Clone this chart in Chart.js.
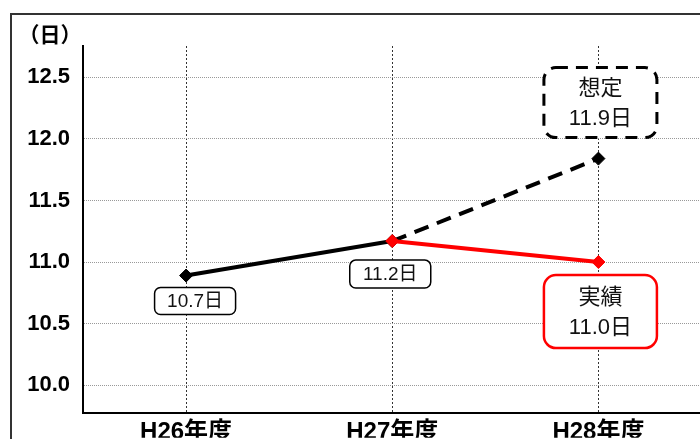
<!DOCTYPE html>
<html lang="ja">
<head>
  <meta charset="UTF-8" />
  <title>平均在院日数の推移</title>
  <script src="https://cdn.jsdelivr.net/npm/chart.js"></script>
  <style>
    html, body { margin: 0; padding: 0; background: #fff; }
    body { width: 700px; height: 439px; overflow: hidden; position: relative; }
    .frame {
      position: absolute; left: 10px; top: 13px;
      width: 740px; height: 480px;
      border: 2px solid #333;
    }
    #chart { position: absolute; left: 0; top: 0; }
  </style>
</head>
<body>
  <div class="frame"></div>
  <canvas id="chart" width="709" height="439"></canvas>

  <script>
    // values
    const categories = ['H26年度', 'H27年度', 'H28年度'];
    const pastValues = [10.89, 11.17, null];     // black solid line
    const planValues = [null, 11.17, 11.84];     // dashed "想定"
    const actualValues = [null, 11.17, 11.0];    // red "実績"
    const yTicks = [10.0, 10.5, 11.0, 11.5, 12.0, 12.5];
    const yMin = 9.775;
    const yMax = 12.755;

    const FONT = '"Liberation Sans", "Noto Sans CJK JP", sans-serif';

    // callout boxes, anchored on a point
    const callouts = [
      { ds: 1, i: 0, lines: ['10.7日'], dx: 9, dy: 12, w: 81, h: 27, size: 19, color: '#000', lw: 1.5, r: 6 },
      { ds: 1, i: 1, lines: ['11.2日'], dx: -2, dy: 19, w: 81, h: 28, size: 19, color: '#000', lw: 1.5, r: 6 },
      { ds: 0, i: 2, lines: ['実績', '11.0日'], dx: 2, dy: 13, w: 113, h: 73, size: 22, color: '#ff0000', lw: 2.5, r: 12 },
      { ds: 2, i: 2, lines: ['想定', '11.9日'], dx: 2, dy: -91, w: 113, h: 70, size: 22, color: '#000', lw: 3, r: 12, dash: [12, 8] }
    ];

    function roundRect(ctx, x, y, w, h, r) {
      ctx.beginPath();
      ctx.moveTo(x + r, y);
      ctx.lineTo(x + w - r, y);
      ctx.arcTo(x + w, y, x + w, y + r, r);
      ctx.lineTo(x + w, y + h - r);
      ctx.arcTo(x + w, y + h, x + w - r, y + h, r);
      ctx.lineTo(x + r, y + h);
      ctx.arcTo(x, y + h, x, y + h - r, r);
      ctx.lineTo(x, y + r);
      ctx.arcTo(x, y, x + r, y, r);
      ctx.closePath();
    }

    const calloutPlugin = {
      id: 'callouts',
      afterDatasetsDraw(chart) {
        const ctx = chart.ctx;
        const xs = chart.scales.x, ys = chart.scales.y;
        const sets = chart.data.datasets;
        ctx.save();
        callouts.forEach(c => {
          const px = xs.getPixelForValue(c.i);
          const py = ys.getPixelForValue(sets[c.ds].data[c.i]);
          const left = px + c.dx - c.w / 2;
          const top = py + c.dy;
          roundRect(ctx, left, top, c.w, c.h, c.r);
          ctx.fillStyle = '#fff';
          ctx.fill();
          ctx.lineWidth = c.lw;
          ctx.strokeStyle = c.color;
          ctx.setLineDash(c.dash || []);
          ctx.stroke();
          ctx.setLineDash([]);
          ctx.fillStyle = '#111';
          ctx.font = c.size + 'px ' + FONT;
          ctx.textAlign = 'center';
          ctx.textBaseline = 'middle';
          const step = 30;
          const cy = top + c.h / 2 - (c.lines.length - 1) * step / 2;
          c.lines.forEach((t, k) => ctx.fillText(t, px + c.dx, cy + k * step + 1));
        });
        // unit label
        ctx.fillStyle = '#000';
        ctx.font = 'bold 21px "Noto Sans CJK JP", sans-serif';
        ctx.textAlign = 'center';
        ctx.textBaseline = 'middle';
        ctx.fillText('（日）', 50, 34);
        ctx.restore();
      }
    };

    new Chart(document.getElementById('chart'), {
      type: 'line',
      data: {
        labels: categories,
        datasets: [
          {
            label: '実績',
            data: actualValues,
            borderColor: '#ff0000',
            backgroundColor: '#ff0000',
            borderWidth: 4,
            pointStyle: 'rectRot',
            pointRadius: 6.5,
            pointBorderWidth: 1,
            tension: 0
          },
          {
            label: '推移',
            data: pastValues,
            borderColor: '#000',
            backgroundColor: '#000',
            borderWidth: 4,
            pointStyle: 'rectRot',
            pointRadius: 6.5,
            pointBorderWidth: 1,
            tension: 0
          },
          {
            label: '想定',
            data: planValues,
            borderColor: '#000',
            backgroundColor: '#000',
            borderWidth: 4,
            borderDash: [15, 9],
            pointStyle: 'rectRot',
            pointRadius: [0, 0, 6.5],
            pointBorderWidth: 1,
            tension: 0
          }
        ]
      },
      options: {
        responsive: false,
        animation: false,
        spanGaps: false,
        layout: { padding: { top: 46, right: 2, left: 0, bottom: 0 } },
        plugins: {
          legend: { display: false },
          tooltip: { enabled: false }
        },
        scales: {
          x: {
            offset: true,
            grid: { offset: false, color: '#333', lineWidth: 1, drawTicks: false },
            border: { color: '#000', width: 2, dash: [2, 2] },
            ticks: {
              color: '#000',
              padding: 5,
              font: { family: FONT, size: 24, weight: 'bold' }
            },
            afterFit(axis) { axis.height = 25; }
          },
          y: {
            min: yMin,
            max: yMax,
            afterBuildTicks(axis) { axis.ticks = yTicks.map(v => ({ value: v })); },
            grid: { color: '#999', lineWidth: 1, drawTicks: false },
            border: { color: '#000', width: 2, dash: [1, 1] },
            ticks: {
              color: '#000',
              padding: 13,
              font: { family: FONT, size: 22, weight: 'bold' },
              callback: v => v.toFixed(1)
            },
            afterFit(axis) { axis.width = 83; }
          }
        }
      },
      plugins: [calloutPlugin]
    });
  </script>
</body>
</html>
